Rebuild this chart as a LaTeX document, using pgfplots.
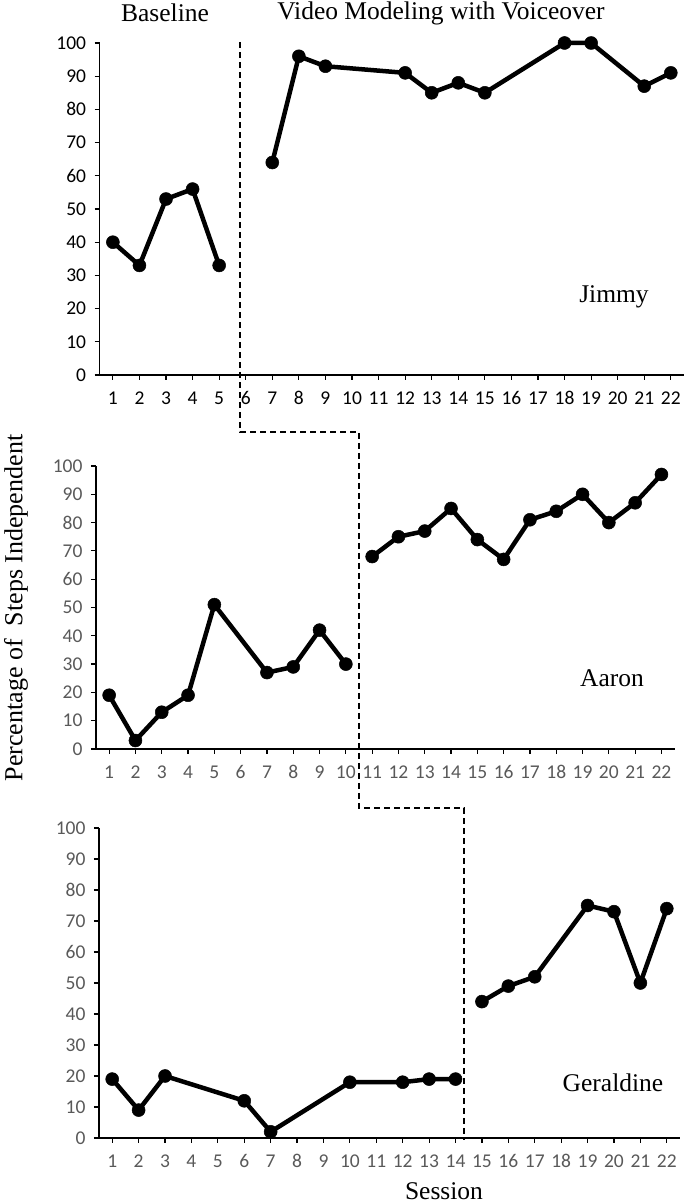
\documentclass[border=0pt]{standalone}
\usepackage{fontspec}
\setmainfont{Liberation Serif}
\newfontfamily\calibri{Carlito}
\usepackage{pgfplots}
\pgfplotsset{compat=1.18}
\definecolor{tickgray}{HTML}{595959}
\pgfplotsset{
 sscd/.style={
  scale only axis, axis lines=left, axis line style={-, line width=1.2pt},
  xmin=0.5, xmax=22.5, ymin=0, ymax=100,
  xtick={1,...,22}, ytick={0,10,...,100},
  tick align=outside, major tick length=5pt, tick style={black, line width=1.2pt},
  /pgf/number format/assume math mode=true,
  ticklabel style={font=\calibri\fontsize{19.5}{19.5}\selectfont},
  xticklabel style={text height=13pt, text depth=0pt, yshift=-8pt},
  yticklabel style={xshift=-5pt},
  clip=false,
 },
 pt/.style={black, line width=4.5pt, mark=*, mark size=6.5pt, mark options={solid, fill=black, line width=0.5pt}},
}
\begin{document}
\begin{tikzpicture}
\useasboundingbox (0,0) rectangle (685pt,1203pt);
% Jimmy
\begin{axis}[sscd, at={(99.6pt,828pt)}, anchor=south west, width=584.5pt, height=332pt,
  ticklabel style={text=black}]
\addplot[pt] coordinates {(1,40)(2,33)(3,53)(4,56)(5,33)};
\addplot[pt] coordinates {(7,64)(8,96)(9,93)(12,91)(13,85)(14,88)(15,85)(18,100)(19,100)(21,87)(22,91)};
\end{axis}
% Aaron
\begin{axis}[sscd, at={(96pt,454pt)}, anchor=south west, width=578.6pt, height=283pt,
  ticklabel style={text=tickgray}]
\addplot[pt] coordinates {(1,19)(2,3)(3,13)(4,19)(5,51)(7,27)(8,29)(9,42)(10,30)};
\addplot[pt] coordinates {(11,68)(12,75)(13,77)(14,85)(15,74)(16,67)(17,81)(18,84)(19,90)(20,80)(21,87)(22,97)};
\end{axis}
% Geraldine
\begin{axis}[sscd, at={(99pt,65pt)}, anchor=south west, width=581pt, height=310pt,
  ticklabel style={text=tickgray}]
\addplot[pt] coordinates {(1,19)(2,9)(3,20)(6,12)(7,2)(10,18)(12,18)(13,19)(14,19)};
\addplot[pt] coordinates {(15,44)(16,49)(17,52)(19,75)(20,73)(21,50)(22,74)};
\end{axis}
% phase change line
\draw[black, line width=1.5pt, dash pattern=on 6pt off 4pt]
  (240pt,1161pt) -- (240pt,771pt) -- (359pt,771pt) -- (359pt,395pt) -- (464pt,395pt) -- (464pt,63pt);
% texts
\node[font=\fontsize{25.5}{25.5}\selectfont] at (165pt,1190pt) {Baseline};
\node[font=\fontsize{25.5}{25.5}\selectfont] at (441pt,1190pt) {Video Modeling with Voiceover};
\node[font=\fontsize{25.5}{25.5}\selectfont] at (614pt,906pt) {Jimmy};
\node[font=\fontsize{25.5}{25.5}\selectfont] at (612pt,525pt) {Aaron};
\node[font=\fontsize{25.5}{25.5}\selectfont] at (613pt,120pt) {Geraldine};
\node[font=\fontsize{25.5}{25.5}\selectfont, anchor=base] at (444pt,4pt) {Session};
\node[font=\fontsize{26}{26}\selectfont, rotate=90] at (16pt,595pt) {Percentage of~ Steps Independent};
\end{tikzpicture}
\end{document}
